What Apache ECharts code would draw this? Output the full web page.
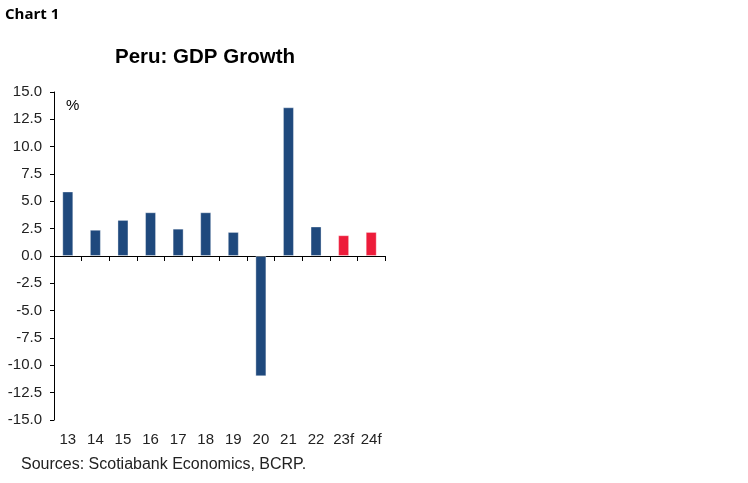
<!DOCTYPE html>
<html>
<head>
<meta charset="utf-8">
<script src="https://cdn.jsdelivr.net/npm/echarts@6/dist/echarts.min.js"></script>
<style>
html,body{margin:0;padding:0;background:#fff;}
#chart{width:748px;height:483px;}
</style>
</head>
<body>
<div id="chart"></div>
<script>
const categories = ['13','14','15','16','17','18','19','20','21','22','23f','24f'];
const gdpGrowth = [5.9, 2.4, 3.3, 4.0, 2.5, 4.0, 2.2, -11.0, 13.6, 2.7, 1.9, 2.2];
const forecastFlags = [false,false,false,false,false,false,false,false,false,false,true,true];
const yTicks = {min: -15, max: 15, step: 2.5};

const navy = '#1f497d';
const red = '#ed1c3a';
const font = '"Liberation Sans", Arial, sans-serif';

const chart = echarts.init(document.getElementById('chart'));
chart.setOption({
  backgroundColor: '#ffffff',
  animation: false,
  title: {
    text: 'Peru: GDP Growth',
    left: 200, top: 42, textAlign: 'center',
    textStyle: {fontFamily: font, fontWeight: 'bold', fontSize: 20.5, color: '#000'}
  },
  graphic: [
    {type: 'text', left: 5, top: 7, style: {text: 'Chart 1', font: 'bold 15px "Open Sans", sans-serif', fill: '#000'}},
    {type: 'text', left: 66, top: 98, style: {text: '%', font: '15px ' + font, fill: '#000'}},
    {type: 'text', left: 21, top: 457, style: {text: 'Sources: Scotiabank Economics, BCRP.', font: '16px ' + font, fill: '#222'}}
  ],
  grid: {left: 54, right: 363, top: 92, bottom: 63, containLabel: false},
  xAxis: [
    {
      type: 'category', data: categories, position: 'bottom',
      axisLine: {onZero: true, lineStyle: {color: '#000', width: 1}},
      axisTick: {show: true, length: 5, lineStyle: {color: '#000'}},
      axisLabel: {show: false}
    },
    {
      type: 'category', data: categories, position: 'bottom',
      axisLine: {show: false, onZero: false},
      axisTick: {show: false},
      axisLabel: {show: true, margin: 12, fontFamily: font, fontSize: 15, color: '#222'}
    }
  ],
  yAxis: {
    type: 'value', min: yTicks.min, max: yTicks.max, interval: yTicks.step,
    axisLine: {show: true, lineStyle: {color: '#000', width: 1}},
    axisTick: {show: true, length: 4, lineStyle: {color: '#000'}},
    splitLine: {show: false},
    axisLabel: {
      margin: 12, fontFamily: font, fontSize: 15, color: '#222',
      formatter: v => v.toFixed(1)
    }
  },
  series: [{
    type: 'bar', xAxisIndex: 0, data: gdpGrowth, barWidth: 11,
    itemStyle: {
      color: p => forecastFlags[p.dataIndex] ? red : navy,
      borderColor: 'rgba(255,255,255,0.35)', borderWidth: 1
    }
  }]
});
</script>
</body>
</html>
